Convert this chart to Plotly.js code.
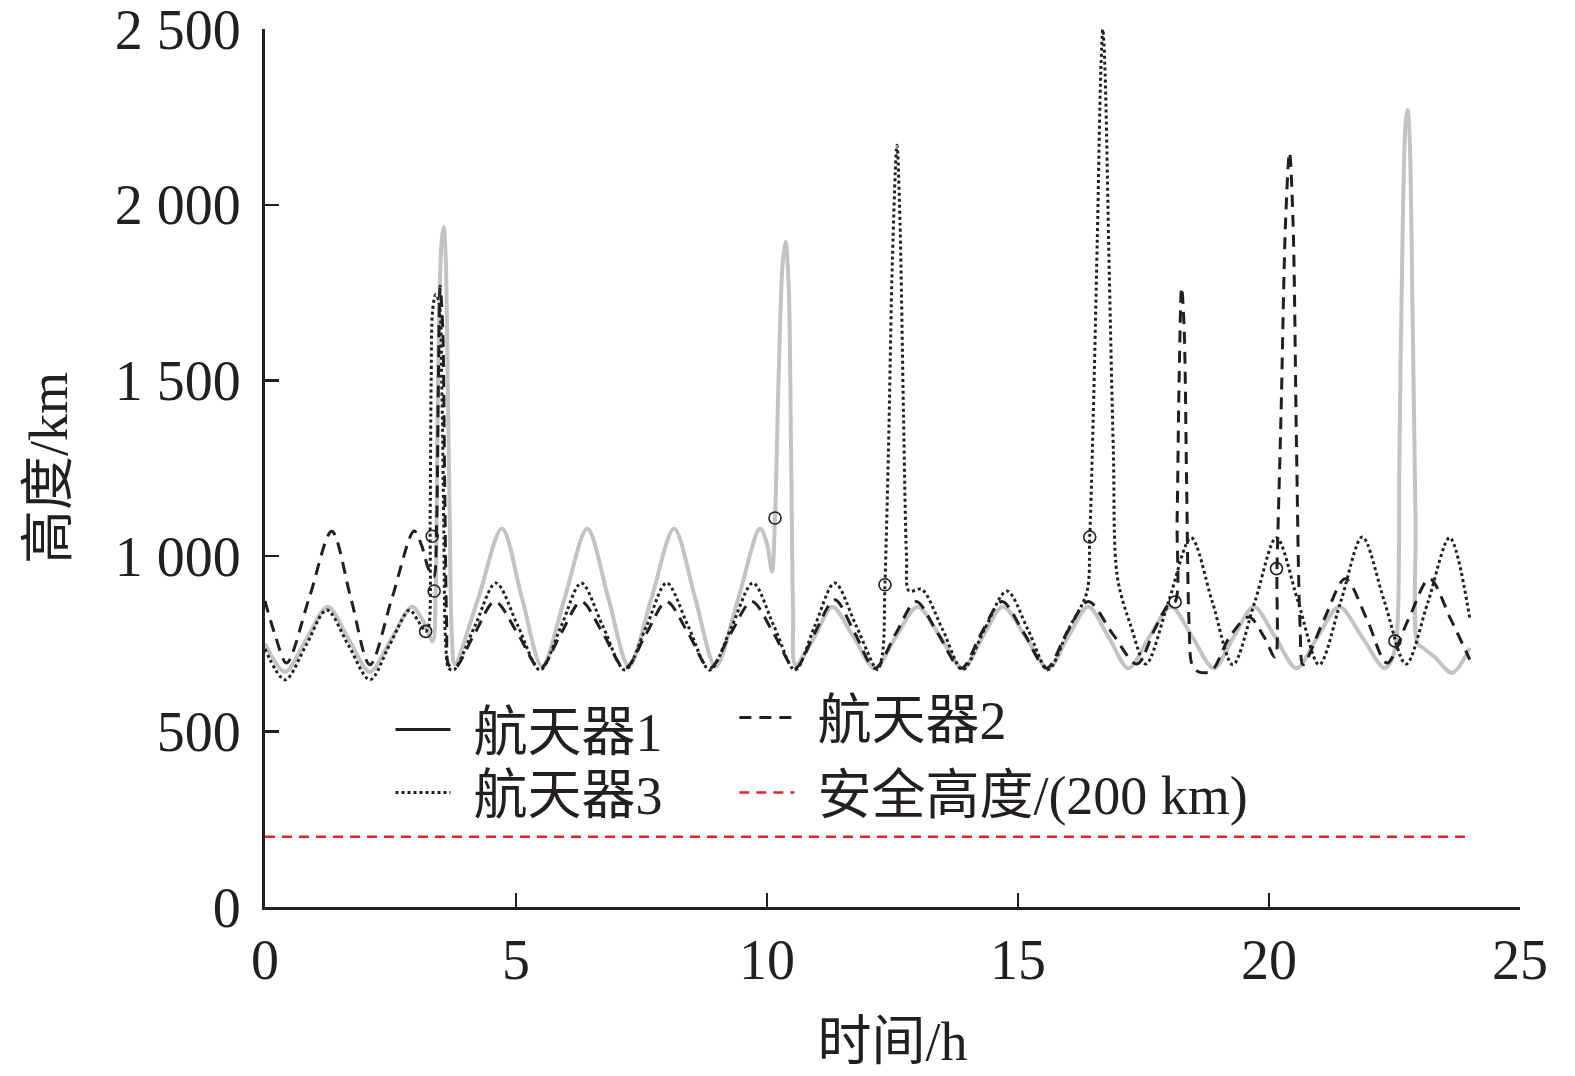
<!DOCTYPE html>
<html>
<head>
<meta charset="utf-8">
<script src="https://cdn.plot.ly/plotly-3.0.1.min.js"></script>
<style>html,body{margin:0;padding:0;background:#fff;}#chart{width:1575px;height:1076px;}</style>
</head>
<body>
<div id="chart"></div>
<script>
// ---- Data (time in h, altitude in km) ----
const names = ['航天器1', '航天器2', '航天器3', '安全高度/(200 km)'];

const t1 = [0,0.4,0.82,1.25,1.67,2.09,2.51,2.93,3.15,3.34,3.4,3.43,3.47,3.52,3.56,3.6,3.64,3.68,3.72,3.78,
  4.25,4.72,5.12,5.52,5.97,6.42,6.84,7.25,7.7,8.15,8.57,8.98,9.43,9.86,10.0,10.1,10.16,10.23,10.31,10.37,10.43,10.48,10.52,10.57,
  10.95,11.3,11.72,12.15,12.57,13.0,13.45,13.9,14.3,14.7,15.15,15.6,16.0,16.4,16.8,17.2,17.62,18.05,18.47,18.9,19.3,19.7,20.12,20.55,20.97,21.4,21.85,22.3,
  22.45,22.55,22.6,22.66,22.72,22.76,22.8,22.86,22.92,22.96,23.05,23.3,23.65,24.0];
const h1 = [750,670,762,855,762,670,762,855,815,757,900,1300,1700,1900,1937,1850,1500,1100,780,692,
  880,1078,880,685,880,1078,880,685,880,1078,880,685,880,1078,1035,955,1108,1500,1830,1895,1780,1300,850,690,
  770,855,770,680,770,855,770,680,770,855,770,680,770,855,770,680,770,855,770,680,770,855,770,680,770,855,770,680,
  705,780,1300,1900,2230,2270,2200,1700,1100,750,740,712,667,738];

const t2 = [0,0.2,0.43,0.88,1.33,1.71,2.09,2.53,2.97,3.12,3.25,3.36,3.42,3.45,3.49,3.54,3.58,3.62,3.66,3.78,
  4.18,4.58,5.03,5.48,5.9,6.3,6.73,7.17,7.6,8.0,8.43,8.86,9.28,9.7,10.13,10.56,10.95,11.35,11.75,12.15,12.57,12.97,13.4,13.87,14.27,14.68,15.12,15.57,15.97,16.4,
  16.9,17.37,17.72,18.0,18.13,18.17,18.21,18.26,18.31,18.36,18.41,18.47,18.6,18.85,19.22,19.6,19.9,20.12,
  20.16,20.24,20.33,20.41,20.48,20.55,20.62,20.68,21.1,21.52,21.95,22.35,22.78,23.2,23.62,24.0];
const h2 = [872,775,695,880,1070,880,690,880,1071,1030,966,940,1100,1450,1768,1650,1200,800,690,680,
  780,870,780,680,780,870,780,680,780,870,780,680,780,870,780,680,780,875,780,680,780,870,780,680,780,870,780,680,780,870,
  775,692,790,862,869,1100,1500,1765,1650,1200,800,690,670,672,770,826,770,712,
  966,1400,1950,2150,1950,1300,800,690,820,935,820,695,820,935,820,705];

const t3 = [0,0.4,0.82,1.23,1.66,2.09,2.48,2.88,3.05,3.2,3.26,3.29,3.31,3.34,3.4,3.47,3.52,3.56,3.6,3.66,3.76,
  4.18,4.6,5.04,5.48,5.9,6.3,6.73,7.17,7.6,8.0,8.43,8.86,9.3,9.72,10.14,10.56,10.95,11.35,11.78,12.2,
  12.3,12.35,12.42,12.5,12.59,12.65,12.72,12.78,12.83,13.08,13.5,13.9,14.33,14.78,15.2,15.6,16.0,16.37,
  16.43,16.5,16.58,16.65,16.69,16.73,16.82,16.9,16.98,17.25,17.55,
  18.0,18.45,18.87,19.28,19.72,20.15,20.58,21.0,21.43,21.86,22.3,22.73,23.17,23.6,24.0];
const h3 = [735,647,746,846,746,647,746,846,815,785,800,1100,1500,1700,1745,1720,1500,1100,750,680,675,
  800,923,800,675,800,923,800,675,800,923,800,675,800,923,800,675,800,923,800,676,
  720,918,1300,1850,2170,1950,1400,1000,900,905,790,676,790,900,790,676,790,895,
  1054,1400,1900,2380,2500,2400,1800,1300,940,800,692,
  870,1052,870,690,870,1052,870,690,870,1054,870,692,870,1052,823];

const safeT = [0, 24];
const safeH = [200, 200];

// maneuver start points (open circles)
const markT = [3.2, 3.33, 3.37, 10.16, 12.35, 16.43, 18.13, 20.15, 22.51];
const markH = [785, 1056, 900, 1108, 918, 1054, 869, 964, 758];

const xTicks = [0, 5, 10, 15, 20, 25];
const yTicks = [0, 500, 1000, 1500, 2000, 2500];
const yTickText = ['0', '500', '1 000', '1 500', '2 000', '2 500'];

// ---- Plot ----
const FONT = '"Liberation Serif", "Times New Roman", "Noto Sans CJK SC", serif';
const INK = '#231f20';
const GAP = '\u2004';

const traces = [
  {x: t1, y: h1, mode: 'lines', line: {color: '#c3c3c3', width: 4, shape: 'spline', smoothing: 0.9}, showlegend: false, hoverinfo: 'skip'},
  {x: t2, y: h2, mode: 'lines', name: GAP + names[1], legend: 'legend2', line: {color: INK, width: 3, dash: '12px,8px', shape: 'spline', smoothing: 0.9}},
  {x: t3, y: h3, mode: 'lines', name: GAP + names[2], legend: 'legend3', line: {color: INK, width: 3, dash: '3px,3px', shape: 'spline', smoothing: 0.9}},
  {x: safeT, y: safeH, mode: 'lines', name: GAP + names[3], legend: 'legend4', line: {color: '#e0262b', width: 2.5, dash: '10px,7px'}},
  {x: markT, y: markH, mode: 'markers', showlegend: false, marker: {symbol: 'circle-open', size: 12, color: INK, line: {width: 1.6, color: INK}}},
  // legend entry for 航天器1 (drawn black in the legend)
  {x: [null], y: [null], mode: 'lines', name: GAP + names[0], legend: 'legend', line: {color: INK, width: 3}}
];

const legBase = {xanchor: 'left', yanchor: 'middle', bgcolor: 'rgba(0,0,0,0)', borderwidth: 0,
  font: {family: FONT, size: 54, color: INK}, itemwidth: 55, tracegroupgap: 0};

const layout = {
  width: 1575, height: 1076,
  margin: {l: 265, r: 55, t: 29, b: 169},
  paper_bgcolor: '#fff', plot_bgcolor: '#fff',
  font: {family: FONT, color: INK},
  xaxis: {
    range: [0, 25.001], tickvals: xTicks, ticks: 'inside', ticklen: 14, tickwidth: 2.5, tickcolor: INK,
    showline: true, linewidth: 3, linecolor: INK, showgrid: false, zeroline: false,
    tickfont: {family: FONT, size: 56, color: INK}, ticklabelstandoff: 2, ticklabeloverflow: 'allow',
    title: {text: '时间/h', font: {family: FONT, size: 54, color: INK}, standoff: 32}, automargin: false
  },
  yaxis: {
    range: [0, 2501], tickvals: yTicks, ticktext: yTickText, ticks: 'inside', ticklen: 14, tickwidth: 2.5, tickcolor: INK,
    showline: true, linewidth: 3, linecolor: INK, showgrid: false, zeroline: false,
    tickfont: {family: FONT, size: 56, color: INK}, ticklabelstandoff: 10, ticklabeloverflow: 'allow',
    title: {text: '高度/km', font: {family: FONT, size: 54, color: INK}, standoff: 30}, automargin: false
  },
  legend:  Object.assign({}, legBase, {x: 0.1, y: 0.2017}),
  legend2: Object.assign({}, legBase, {x: 0.374, y: 0.2154}),
  legend3: Object.assign({}, legBase, {x: 0.1, y: 0.130}),
  legend4: Object.assign({}, legBase, {x: 0.374, y: 0.130}),
  showlegend: true
};

Plotly.newPlot('chart', traces, layout, {staticPlot: true, displayModeBar: false});
</script>
</body>
</html>
